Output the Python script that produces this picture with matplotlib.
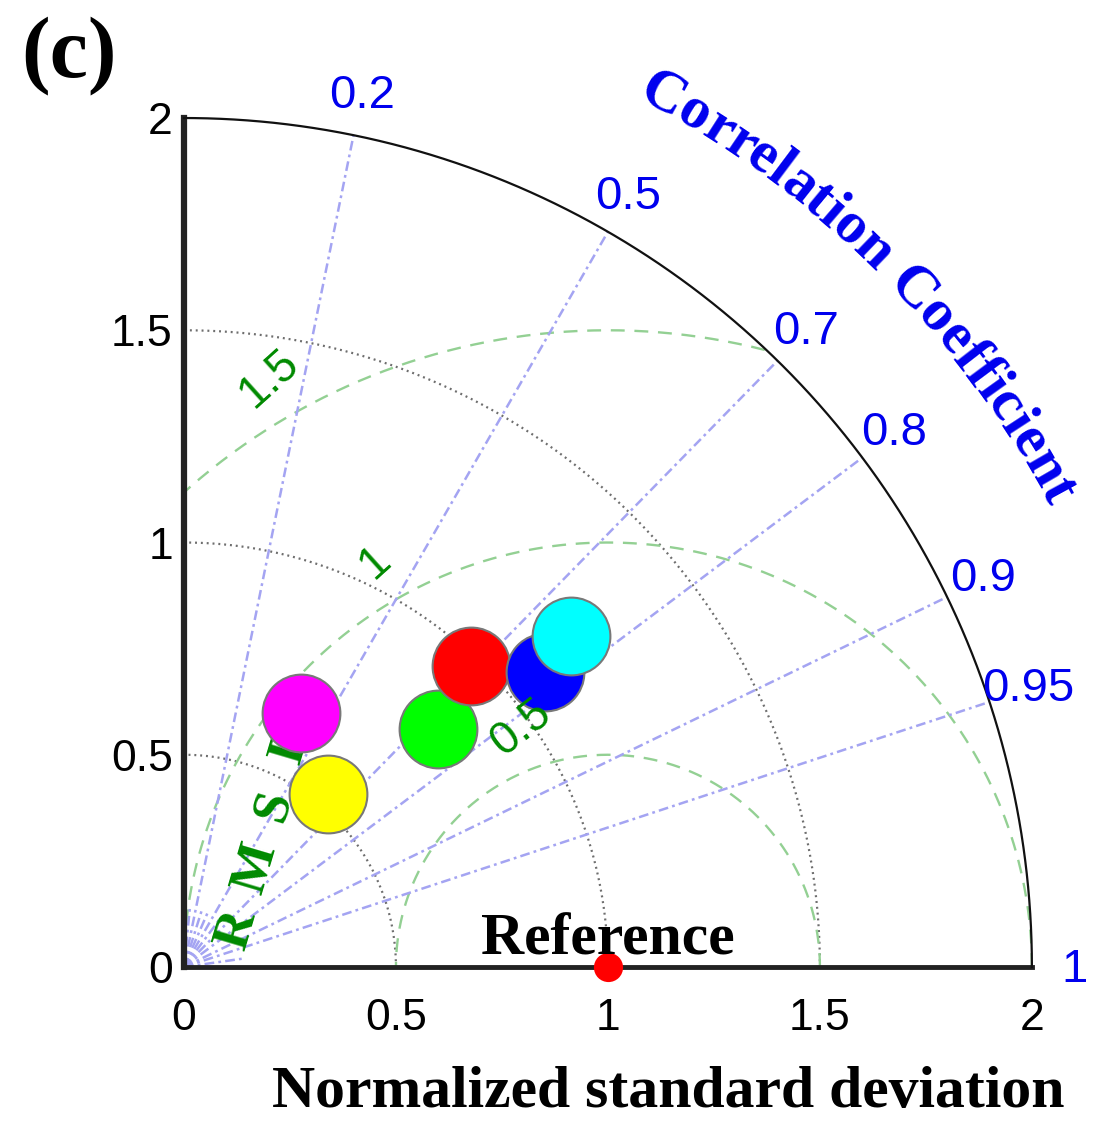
import numpy as np
import matplotlib
matplotlib.use('Agg')
import matplotlib.pyplot as plt
from matplotlib.font_manager import FontProperties

plt.rcParams['font.family'] = 'Liberation Sans'
plt.rcParams['lines.scale_dashes'] = False

# normalized standard deviation and correlation of each run
std_norm = [0.66, 0.53, 0.82, 0.98, 1.10, 1.20]
corr_coef = [0.42, 0.64, 0.73, 0.69, 0.775, 0.76]
marker_colors = ['magenta', 'yellow', 'lime', 'red', 'blue', 'cyan']

ref_std = 1.0
std_max = 2.0
std_ticks = [0, 0.5, 1, 1.5, 2]
std_labels = ['0', '0.5', '1', '1.5', '2']
std_arcs = [0.5, 1.0, 1.5]
corr_ticks = [0.2, 0.5, 0.7, 0.8, 0.9, 0.95]
corr_labels = ['0.2', '0.5', '0.7', '0.8', '0.9', '0.95']
corr_minor = [0.1, 0.3, 0.4, 0.6, 0.99]
rms_ticks = [0.5, 1.0, 1.5]
rms_labels = ['0.5', '1', '1.5']

serif = 'Liberation Serif'
blue = '#0000ee'
green = '#008a00'
corr_color = '#a4a4f2'
rms_color = '#93d093'
std_color = '#6e6e6e'

fig = plt.figure(figsize=(10.93, 11.23), dpi=100)
ax = fig.add_axes([0.1683, 0.1389, 0.7758, 0.756])
ax.set_xlim(0, std_max)
ax.set_ylim(0, std_max)

for side in ['top', 'right']:
    ax.spines[side].set_visible(False)
ax.spines['left'].set_linewidth(4.5)
ax.spines['left'].set_color('#222222')
ax.spines['bottom'].set_linewidth(3.5)
ax.spines['bottom'].set_color('#222222')

ax.set_xticks(std_ticks, std_labels)
ax.set_yticks(std_ticks, std_labels)
ax.tick_params(axis='x', length=0, labelsize=32, pad=22)
ax.tick_params(axis='y', length=0, labelsize=32, pad=8)

t = np.linspace(0, np.pi / 2, 400)

# outer boundary
ax.plot(std_max * np.cos(t), std_max * np.sin(t), color='#111111', lw=1.6,
        clip_on=False, zorder=3)

# standard deviation arcs
for s in std_arcs:
    ax.plot(s * np.cos(t), s * np.sin(t), color=std_color, lw=1.6,
            ls=(0, (1.4, 2.8)), zorder=2)

# centred RMS difference circles around the reference
tt = np.linspace(0, np.pi, 600)
for rr in rms_ticks:
    x = ref_std + rr * np.cos(tt)
    y = rr * np.sin(tt)
    outside = (x < 0) | (np.hypot(x, y) > std_max)
    x[outside] = np.nan
    y[outside] = np.nan
    ax.plot(x, y, color=rms_color, lw=1.7, ls=(0, (10, 7)), zorder=2)

# correlation rays
dashdot = (0, (7, 3, 2, 3))
for c, lbl in zip(corr_ticks, corr_labels):
    th = np.arccos(c)
    ax.plot([0, std_max * np.cos(th)], [0, std_max * np.sin(th)],
            color=corr_color, lw=1.8, ls=dashdot, zorder=2)
    ax.text(2.095 * np.cos(th), 2.095 * np.sin(th), lbl, color=blue,
            fontsize=34, ha='center', va='center', clip_on=False)
ax.text(2.1, -0.008, '1', color=blue, fontsize=34, ha='center', va='center',
        clip_on=False)
for c in corr_minor:
    th = np.arccos(c)
    ax.plot([0, 0.14 * np.cos(th)], [0, 0.14 * np.sin(th)],
            color=corr_color, lw=1.8, ls=dashdot, zorder=2)

# RMS tick labels: (angle around reference, rotation)
rms_pos = [(110, 38), (120, 42), (120, 42)]
for rr, lbl, (ang, rot) in zip(rms_ticks, rms_labels, rms_pos):
    a = np.radians(ang)
    r_lab = rr + 0.1
    ax.text(ref_std + r_lab * np.cos(a), r_lab * np.sin(a), lbl, color=green,
            fontsize=33, rotation=rot, ha='center', va='center', zorder=7)

# RMSD axis name, letters spread along a slanted line
rmsd_dir = np.radians(73.5)
for i, ch in enumerate('RMSD'):
    d = 0.152 * i
    ax.text(0.125 + d * np.cos(rmsd_dir), 0.087 + d * np.sin(rmsd_dir), ch,
            color=green, fontsize=38, fontweight='bold', family=serif,
            rotation=73.5, rotation_mode='anchor', ha='center', va='center',
            zorder=4)

# model points
for s, c, col in zip(std_norm, corr_coef, marker_colors):
    th = np.arccos(c)
    ax.plot(s * np.cos(th), s * np.sin(th), 'o', ms=56, mfc=col,
            mec='#787878', mew=1.5, zorder=5)

# reference point
ax.plot(ref_std, 0, 'o', ms=21, color='red', mec='none', zorder=6,
        clip_on=False)
ax.text(ref_std, 0.03, 'Reference', fontsize=43, fontweight='bold',
        family=serif, ha='center', va='baseline', zorder=7)

# curved "Correlation Coefficient" title along the outer arc
renderer = fig.canvas.get_renderer()
fp = FontProperties(family=serif, weight='bold', size=43)
title = 'Correlation Coefficient'


def text_width(s):
    w, h, d = renderer.get_text_width_height_descent(s, fp, ismath=False)
    return w


total = text_width(title)
px_per_unit = ax.transData.transform((1, 0))[0] - ax.transData.transform((0, 0))[0]
r_base = 2.31
r_px = r_base * px_per_unit
for i, ch in enumerate(title):
    if ch == ' ':
        continue
    mid = text_width(title[:i + 1]) - text_width(ch) / 2
    ang = np.radians(45.2) - (mid - total / 2) / r_px
    ax.text(r_base * np.cos(ang), r_base * np.sin(ang), ch,
            rotation=np.degrees(ang) - 90, rotation_mode='anchor',
            ha='center', va='baseline', fontproperties=fp, color=blue,
            clip_on=False)

fig.text(0.611, 0.0267, 'Normalized standard deviation', fontsize=43,
         fontweight='bold', family=serif, ha='center', va='center')
fig.text(0.019, 0.932, '(c)', fontsize=62, fontweight='bold', family=serif,
         va='baseline')

fig.savefig('out.png', dpi=100)
